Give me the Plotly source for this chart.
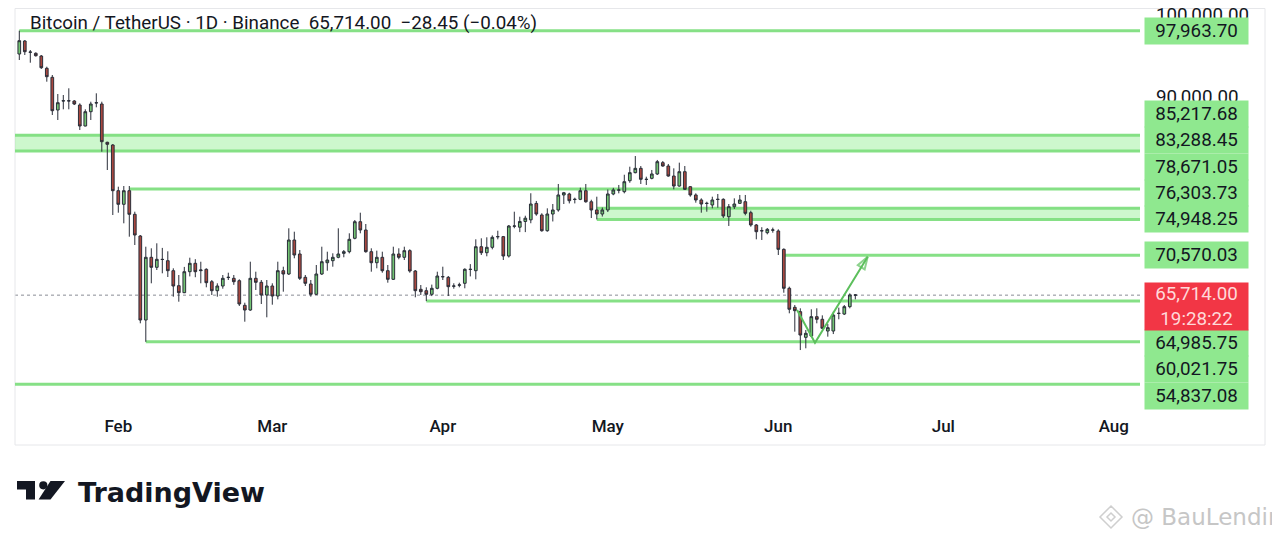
import plotly.graph_objects as go
import pandas as pd

# ---------------- data ----------------
start_date = "2026-01-14"
opens = [95122, 96707, 95330, 95207, 94878, 93378, 92280, 88293, 89390, 89427,
         89390, 88903, 86341, 88085, 89183, 89024, 84353, 84024, 78451, 76793,
         78451, 75573, 72927, 62683, 70329, 69110, 70085, 69915, 68695, 66866,
         66012, 68573, 69598, 68700, 68866, 67354, 66256, 66829, 67860, 67768,
         67476, 64476, 63902, 67768, 67281, 65732, 66829, 65610, 68695, 68293,
         72439, 70732, 67890, 67074, 65817, 68293, 69670, 69915, 70329, 70810,
         71012, 72646, 74671, 73659, 71012, 69670, 70329, 68695, 67646, 70732,
         70329, 71140, 68659, 66426, 66256, 65817, 66549, 67950, 67890, 66800,
         66930, 67159, 68840, 68695, 71622, 70890, 71549, 72830, 72850, 70488,
         74120, 74000, 74700, 74900, 76900, 75490, 73570, 75610, 76100, 77930,
         78050, 77380, 77400, 78450, 77100, 76100, 75610, 76100, 78050, 78520,
         78330, 79670, 80650, 81180, 79820, 79960, 80490, 81870, 81460, 80240,
         79020, 80770, 78940, 77930, 77320, 76890, 76710, 77380, 77400, 75280,
         76500, 76910, 77110, 75770, 74270, 73550, 73330, 73640, 73540, 71300,
         66550, 64230, 63700, 60570, 60730, 63090, 62770, 61340, 61340, 63480,
         63410, 64310, 65742.45]
highs = [97963.70, 96829, 95610, 95330, 95000, 93573, 92561, 90244, 90122, 90939,
         89500, 89110, 88378, 89305, 90329, 89305, 84427, 84146, 78939, 79025,
         79025, 75890, 73049, 71622, 71427, 72037, 71476, 71061, 68988, 68171,
         69159, 70280, 70100, 69790, 68988, 67561, 67159, 68171, 68451, 68171,
         67646, 64793, 69793, 68573, 67561, 67561, 67159, 69793, 69183, 73866,
         73451, 71220, 68171, 67561, 69390, 71622, 71012, 70817, 73866, 71220,
         73256, 74878, 75768, 74390, 71427, 71140, 71012, 69390, 71622, 71427,
         71622, 71305, 68780, 66950, 66671, 67000, 68573, 69183, 68049, 67160,
         67230, 68988, 69500, 72524, 72646, 72770, 73000, 73570, 72930, 74270,
         75890, 75280, 75400, 78140, 77200, 75700, 76300, 76830, 79270, 78300,
         78200, 77600, 78820, 79270, 77350, 77720, 76400, 78600, 78800, 79150,
         80400, 81380, 82680, 81460, 80160, 80980, 82200, 82070, 81710, 81180,
         81870, 81460, 79020, 78130, 77520, 77110, 77720, 78050, 77520, 76830,
         77520, 77930, 77930, 76010, 74390, 74000, 73900, 73950, 73740, 71420,
         66750, 64510, 64110, 61460, 63990, 64110, 63250, 62200, 63700, 64190,
         64510, 65930, 65850]
lows = [94390, 95000, 94060, 94800, 93300, 91744, 87683, 87073, 88378, 88378,
        88900, 85854, 86300, 87073, 88622, 83207, 80976, 75488, 75768, 74476,
        72842, 71829, 62280, 60021.75, 67158, 68780, 68378, 67927, 65524, 64915,
        65963, 68000, 67900, 67160, 66671, 65732, 65524, 66500, 67561, 66970,
        64390, 62476, 63800, 66342, 64634, 63012, 64550, 65200, 66134, 68170,
        70207, 67560, 66830, 65525, 65730, 68170, 68695, 69183, 70210, 70330,
        70810, 72524, 73256, 70890, 68573, 68988, 68451, 67232, 67560, 70085,
        70000, 68451, 65451, 65730, 64985.75, 65600, 66426, 67560, 65610, 66500,
        66670, 66550, 68000, 67646, 70610, 70450, 71300, 72520, 70000, 70300,
        73870, 73400, 73400, 74480, 75400, 73450, 73450, 74700, 75890, 76830,
        76900, 76900, 77300, 76990, 75120, 74948.25, 75300, 75850, 77900, 78130,
        78130, 79420, 80570, 79270, 79150, 79840, 80370, 81380, 80160, 78620,
        78940, 78540, 77720, 76990, 75770, 75890, 76300, 76380, 75120, 74150,
        76220, 76830, 75450, 74060, 72520, 72440, 73130, 73330, 70610, 66010,
        63500, 61260, 59020, 59230, 60650, 62280, 61540, 60650, 60970, 62770,
        63290, 64110, 65200]
closes = [96744, 95402, 95360, 94915, 93451, 92354, 88207, 89183, 89420, 89400,
          89024, 86341, 88085, 89024, 89160, 84427, 84110, 78451, 76793, 78451,
          75573, 73049, 62683, 70329, 69110, 70085, 70060, 68695, 66829, 66012,
          68573, 69598, 68573, 68780, 67232, 66256, 66829, 67768, 67890, 67354,
          64634, 63902, 67768, 67281, 65732, 66829, 65610, 68695, 68293, 72439,
          70610, 67768, 67159, 65817, 68293, 69793, 70000, 70329, 70732, 71012,
          72524, 74671, 73659, 71012, 69670, 70329, 68695, 67646, 70732, 70329,
          71140, 68659, 66256, 66134, 65817, 66549, 68049, 67970, 66744, 66830,
          66960, 68866, 68866, 71622, 70890, 71549, 72768, 72850, 70488, 74146,
          74146, 74700, 75100, 76830, 75610, 73570, 75610, 76100, 77930, 78200,
          77230, 77400, 78450, 77100, 76100, 75610, 76100, 78050, 78540, 78540,
          79550, 80650, 81180, 79840, 79840, 80490, 81990, 81460, 80240, 79020,
          80770, 78620, 77930, 77320, 76830, 76910, 77320, 77400, 75370, 76500,
          76830, 77320, 75690, 74270, 73450, 73570, 73740, 73660, 71300, 66550,
          63990, 63820, 60850, 61060, 63090, 62770, 61670, 61750, 63290, 63500,
          64310, 65742.45, 65714.00]

level_prices = [97963.70, 85217.68, 83288.45, 78671.05, 76303.73, 74948.25,
                70570.03, 64985.75, 60021.75, 54837.08]
level_starts = ["2026-01-14", "2026-01-01", "2026-01-01", "2026-02-03", "2026-04-29",
                "2026-04-29", "2026-06-02", "2026-03-29", "2026-02-06", "2026-01-01"]
zone_tops = [85217.68, 76303.73]
zone_bottoms = [83288.45, 74948.25]
zone_starts = ["2026-01-01", "2026-04-29"]

last_price = 65714.00
countdown = "19:28:22"
title_text = ("Bitcoin / TetherUS · 1D · Binance\u00a0\u00a065,714.00\u00a0\u00a0"
              "\u221228.45 (\u22120.04%)")

arrow_dates = ["2026-06-04 10:00", "2026-06-07 16:00", "2026-06-17 06:00"]
arrow_prices = [63900, 59900, 70400]

month_ticks = ["2026-02-01", "2026-03-01", "2026-04-01", "2026-05-01",
               "2026-06-01", "2026-07-01", "2026-08-01"]
month_labels = ["Feb", "Mar", "Apr", "May", "Jun", "Jul", "Aug"]
price_ticks = [90000, 100000]
price_tick_labels = ["90,000.00", "100,000.00"]

# ---------------- layout geometry ----------------
# the page adds an 8px body margin; coordinates below are screen pixels
OFF = 8
W_FIG, H_FIG = 1264, 524
PLOT_X0, PLOT_X1 = 15, 1140      # screen px
PLOT_Y0, PLOT_Y1 = 8, 404        # screen px
L = PLOT_X0 - OFF
T = PLOT_Y0 - OFF
PW = PLOT_X1 - PLOT_X0
PH = PLOT_Y1 - PLOT_Y0
R = W_FIG - L - PW
B = H_FIG - T - PH
y_min, y_max = 52439, 100732
x_range = ["2026-01-13 05:15", "2026-08-05 18:15"]

GREEN_LINE = "rgba(128,222,128,0.95)"
GREEN_BOX = "#8fe88f"
ZONE_FILL = "rgba(144,238,144,0.45)"
TXT = "#131722"
FONT = "Roboto"
LBL_SIZE = 18.8


def px_x(px):
    return (px - PLOT_X0) / PW


def px_y(py):
    return (PLOT_Y1 - py) / PH


def price_px(v):
    return PLOT_Y0 + (y_max - v) / (y_max - y_min) * PH


dates = pd.date_range(start_date, periods=len(opens), freq="D")

fig = go.Figure()
fig.add_trace(go.Candlestick(
    x=dates, open=opens, high=highs, low=lows, close=closes,
    increasing=dict(fillcolor="#73c473", line=dict(color="#2a2e39", width=1)),
    decreasing=dict(fillcolor="#a8473f", line=dict(color="#2a2e39", width=1)),
    whiskerwidth=0, hoverinfo="skip", showlegend=False,
))

# arrow drawing
fig.add_trace(go.Scatter(
    x=arrow_dates, y=arrow_prices, mode="lines+markers",
    line=dict(color="#5cbf5c", width=2),
    marker=dict(symbol="arrow-open", size=[0, 0, 13], angleref="previous",
                color="#5cbf5c", line=dict(color="#5cbf5c", width=2)),
    hoverinfo="skip", showlegend=False,
))

shapes = []
for top, bot, st in zip(zone_tops, zone_bottoms, zone_starts):
    shapes.append(dict(type="rect", xref="x", yref="y", x0=st, x1="2026-12-31",
                       y0=bot, y1=top, fillcolor=ZONE_FILL, line=dict(width=0),
                       layer="below"))
for p, st in zip(level_prices, level_starts):
    shapes.append(dict(type="line", xref="x", yref="y", x0=st, x1="2026-12-31",
                       y0=p, y1=p, line=dict(color=GREEN_LINE, width=3), layer="below"))
shapes.append(dict(type="line", xref="paper", yref="y", x0=0, x1=1, y0=last_price,
                   y1=last_price, line=dict(color="#8a8d96", width=1, dash="dot"),
                   layer="below"))
# chart frame
shapes.append(dict(type="rect", xref="paper", yref="paper", x0=px_x(15), x1=px_x(1265),
                   y0=px_y(445), y1=px_y(8.5), line=dict(color="#e6e7ea", width=1),
                   layer="below"))


def path_from(points):
    return "M" + " L".join(f"{px_x(a):.5f},{px_y(b):.5f}" for a, b in points) + " Z"


# TradingView logo
logo_col = "#131722"
shapes.append(dict(type="path", xref="paper", yref="paper",
                   path=path_from([(17, 481), (35, 481), (35, 499.5), (26, 499.5),
                                   (26, 489.5), (17, 489.5)]),
                   fillcolor=logo_col, line=dict(width=0)))
shapes.append(dict(type="circle", xref="paper", yref="paper",
                   x0=px_x(39.2), x1=px_x(47.4), y0=px_y(489.4), y1=px_y(481.2),
                   fillcolor=logo_col, line=dict(width=0)))
shapes.append(dict(type="path", xref="paper", yref="paper",
                   path=path_from([(50.5, 481), (65, 481), (50.5, 499.5), (38.6, 499.5)]),
                   fillcolor=logo_col, line=dict(width=0)))
# watermark icon
wm = "#cfcfcf"
shapes.append(dict(type="path", xref="paper", yref="paper",
                   path=path_from([(1111, 506), (1122, 517), (1111, 528), (1100, 517)]),
                   fillcolor="rgba(0,0,0,0)", line=dict(color=wm, width=1.5)))
shapes.append(dict(type="path", xref="paper", yref="paper",
                   path=path_from([(1111, 513), (1115, 517), (1111, 521), (1107, 517)]),
                   fillcolor="rgba(0,0,0,0)", line=dict(color=wm, width=1.5)))

annotations = []
annotations.append(dict(xref="paper", yref="paper", x=px_x(28), y=px_y(23),
                        xanchor="left", yanchor="middle", text=title_text,
                        showarrow=False, font=dict(family=FONT, size=18.8, color=TXT)))

# right-side price labels, stacked so they do not overlap
LBL_H = 26.4
RED_H = 47
red_top = price_px(last_price) - 12.5
red_bottom = red_top + RED_H
box_x = px_x(1144)
box_w = 103

centers = {}
bound = red_top
for p in sorted([q for q in level_prices if q > last_price]):
    c = min(price_px(p), bound - LBL_H / 2)
    centers[p] = c
    bound = c - LBL_H / 2
bound = red_bottom
for p in sorted([q for q in level_prices if q < last_price], reverse=True):
    c = max(price_px(p), bound + LBL_H / 2)
    centers[p] = c
    bound = c + LBL_H / 2

for p in level_prices:
    annotations.append(dict(xref="paper", yref="paper", x=box_x, y=px_y(centers[p]),
                            xanchor="left", yanchor="middle", text=f"{p:,.2f}",
                            showarrow=False, bgcolor=GREEN_BOX, borderpad=0,
                            width=box_w, height=LBL_H, align="center", valign="middle",
                            font=dict(family=FONT, size=LBL_SIZE, color=TXT)))
annotations.append(dict(xref="paper", yref="paper", x=box_x,
                        y=px_y(red_top + RED_H / 2), xanchor="left", yanchor="middle",
                        text=f"{last_price:,.2f}<br>{countdown}", showarrow=False,
                        bgcolor="#f23645", borderpad=0, width=box_w, height=RED_H,
                        align="center", valign="middle",
                        font=dict(family=FONT, size=LBL_SIZE, color="#ffd9d9")))

annotations.append(dict(xref="paper", yref="paper", x=px_x(76), y=px_y(492),
                        xanchor="left", yanchor="middle", text="<b>TradingView</b>",
                        showarrow=False,
                        font=dict(family="DejaVu Sans", size=27, color=logo_col)))
annotations.append(dict(xref="paper", yref="paper", x=px_x(1129), y=px_y(517),
                        xanchor="left", yanchor="middle", text="@ BauLendir",
                        showarrow=False,
                        font=dict(family="DejaVu Sans", size=23, color="#c6c6c6")))

fig.update_layout(
    width=W_FIG, height=H_FIG,
    margin=dict(l=L, r=R, t=T, b=B, autoexpand=False),
    paper_bgcolor="white", plot_bgcolor="white",
    shapes=shapes, annotations=annotations,
    showlegend=False, hovermode=False,
    xaxis=dict(type="date", range=x_range, tickvals=month_ticks, ticktext=month_labels,
               showgrid=False, zeroline=False, showline=False, ticks="",
               ticklabelstandoff=10, rangeslider=dict(visible=False), fixedrange=True,
               tickfont=dict(family=FONT, size=17, color=TXT, weight=500)),
    yaxis=dict(range=[y_min, y_max], side="right", tickvals=price_ticks,
               ticktext=price_tick_labels, showgrid=False, zeroline=False,
               showline=False, ticks="", ticklabelstandoff=15, fixedrange=True,
               ticklabeloverflow="allow",
               tickfont=dict(family=FONT, size=LBL_SIZE, color=TXT)),
)

fig.write_html("out.html")
